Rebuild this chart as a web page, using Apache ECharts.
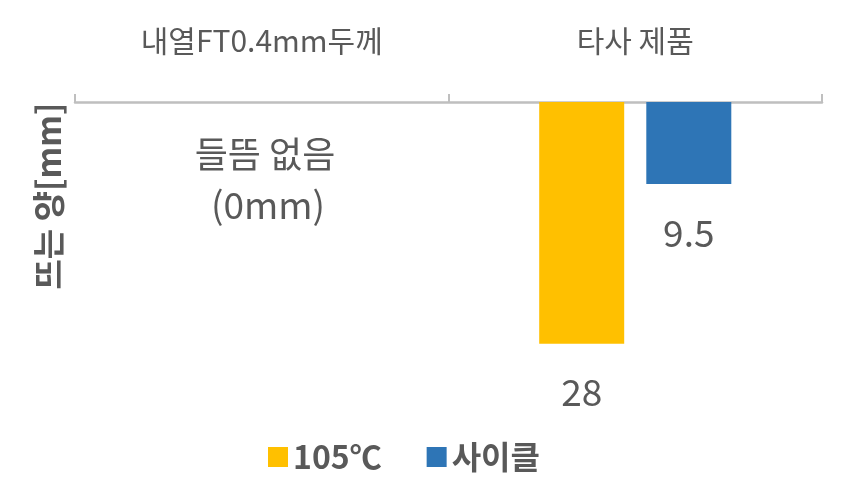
<!DOCTYPE html>
<html>
<head>
<meta charset="utf-8">
<script src="https://cdn.jsdelivr.net/npm/echarts@6/dist/echarts.min.js"></script>
<style>
  html, body { margin: 0; padding: 0; background: #fff; }
  #chart { width: 851px; height: 491px; }
</style>
</head>
<body>
<div id="chart"></div>
<script>
// 데이터
var categories = ["내열FT0.4mm두께", "타사 제품"];
var seriesNames = ["105℃", "사이클"];
var heatValues = [0, 28];
var cycleValues = [0, 9.5];
var yMax = 30;

var font = "Noto Sans CJK KR";
var textColor = "#595959";

var chart = echarts.init(document.getElementById("chart"));

var valueLabel = {
  show: true,
  position: "bottom",
  distance: 30,
  color: textColor,
  fontSize: 37,
  formatter: function (p) { return p.value === 0 ? "" : p.value; }
};

var option = {
  animation: false,
  textStyle: { fontFamily: font },
  grid: { left: 75, right: 29, top: 102, height: 259 },
  legend: {
    left: 263,
    top: 436,
    icon: "rect",
    itemWidth: 20,
    itemHeight: 20,
    itemGap: 45,
    textStyle: { color: textColor, fontSize: 32, fontWeight: "bold", fontFamily: font },
    data: seriesNames
  },
  xAxis: {
    type: "category",
    position: "top",
    data: categories,
    axisLine: { lineStyle: { color: "#BFBFBF", width: 2.5 } },
    axisTick: { show: true, length: 8, lineStyle: { color: "#BFBFBF", width: 2 } },
    axisLabel: { color: textColor, fontSize: 30, margin: 46 }
  },
  yAxis: {
    type: "value",
    inverse: true,
    min: 0,
    max: yMax,
    show: false
  },
  graphic: [
    {
      type: "text",
      position: [48, 196],
      rotation: Math.PI / 2,
      style: {
        text: "뜨는 양[mm]",
        fill: textColor,
        font: "bold 33px '" + font + "'",
        textAlign: "center",
        textVerticalAlign: "middle"
      }
    },
    {
      type: "text",
      position: [265, 154],
      style: {
        text: "들뜸 없음",
        fill: textColor,
        font: "36px '" + font + "'",
        textAlign: "center",
        textVerticalAlign: "middle"
      }
    },
    {
      type: "text",
      position: [268, 205],
      style: {
        text: "(0mm)",
        fill: textColor,
        font: "37px '" + font + "'",
        textAlign: "center",
        textVerticalAlign: "middle"
      }
    }
  ],
  series: [
    {
      name: seriesNames[0],
      type: "bar",
      data: heatValues,
      barWidth: 85,
      barGap: "26%",
      itemStyle: { color: "#FFC000" },
      label: valueLabel
    },
    {
      name: seriesNames[1],
      type: "bar",
      data: cycleValues,
      barWidth: 85,
      itemStyle: { color: "#2E75B6" },
      label: valueLabel
    }
  ]
};

chart.setOption(option);
</script>
</body>
</html>
